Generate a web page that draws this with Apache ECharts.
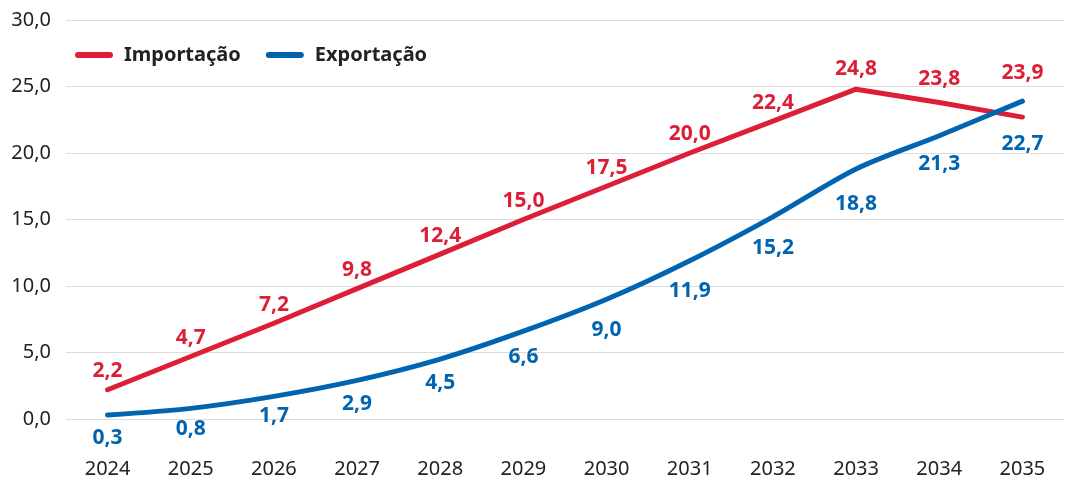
<!DOCTYPE html>
<html>
<head>
<meta charset="utf-8">
<script src="https://cdn.jsdelivr.net/npm/echarts@6/dist/echarts.min.js"></script>
<style>
  html, body { margin: 0; padding: 0; background: #fff; }
  #chart { width: 1069px; height: 485px; }
</style>
</head>
<body>
<div id="chart"></div>
<script>
// anos
const years = ["2024", "2025", "2026", "2027", "2028", "2029", "2030", "2031", "2032", "2033", "2034", "2035"];
// linhas como desenhadas
const importacao = [2.2, 4.7, 7.2, 9.8, 12.4, 15.0, 17.5, 20.0, 22.4, 24.8, 23.8, 22.7];
const exportacao = [0.3, 0.8, 1.7, 2.9, 4.5, 6.6, 9.0, 11.9, 15.2, 18.8, 21.3, 23.9];
// rótulos como aparecem
const importLabels = ["2,2", "4,7", "7,2", "9,8", "12,4", "15,0", "17,5", "20,0", "22,4", "24,8", "23,8", "23,9"];
const exportLabels = ["0,3", "0,8", "1,7", "2,9", "4,5", "6,6", "9,0", "11,9", "15,2", "18,8", "21,3", "22,7"];

const RED = "#dc1f36";
const BLUE = "#0064b0";
const FONT = "Noto Sans";

// afastamento dos rótulos (px)
const importDist = [8, 8, 8, 8, 8, 8, 8, 8, 8, 10, 13, 34];
const exportDist = [13, 10, 9, 13, 13, 15, 20, 20, 21, 25, 18, 32];

const chart = echarts.init(document.getElementById("chart"));

const capsule = "path://M3,0 H35 A3,3 0 0 1 35,6 H3 A3,3 0 0 1 3,0 Z";

let option = {
  animation: false,
  grid: { left: 66, right: 5, top: 20, bottom: 66 },
  legend: {
    left: 70,
    top: 40,
    itemWidth: 38,
    itemHeight: 6,
    itemGap: 25,
    textStyle: { fontFamily: FONT, fontSize: 20, fontWeight: "bold", color: "#222", padding: [0, 0, 0, 6] },
    data: [
      { name: "Importação", icon: capsule, itemStyle: { color: RED } },
      { name: "Exportação", icon: capsule, itemStyle: { color: BLUE } }
    ]
  },
  xAxis: {
    type: "category",
    data: years,
    axisLine: { show: false },
    axisTick: { show: false },
    axisLabel: { margin: 40, fontFamily: FONT, fontSize: 20, color: "#222" }
  },
  yAxis: {
    type: "value",
    min: 0,
    max: 30,
    interval: 5,
    axisLine: { show: false },
    axisTick: { show: false },
    splitLine: { lineStyle: { color: "#dcdcdc", width: 1 } },
    axisLabel: {
      margin: 15,
      fontFamily: FONT,
      fontSize: 20,
      color: "#222",
      formatter: v => v.toFixed(1).replace(".", ",")
    }
  },
  series: [
    {
      name: "Importação",
      type: "line",
      data: importacao.map((v, i) => ({ value: v, label: { distance: importDist[i] } })),
      symbol: "circle",
      symbolSize: 0,
      showSymbol: true,
      itemStyle: { color: RED },
      lineStyle: { color: RED, width: 5, cap: "round", join: "round" },
      label: {
        show: true,
        position: "top",
        fontFamily: FONT,
        fontSize: 21,
        fontWeight: "bold",
        color: RED,
        formatter: p => importLabels[p.dataIndex]
      }
    },
    {
      name: "Exportação",
      type: "line",
      smooth: 0.3,
      data: exportacao.map((v, i) => ({ value: v, label: { distance: exportDist[i] } })),
      symbol: "circle",
      symbolSize: 0,
      showSymbol: true,
      itemStyle: { color: BLUE },
      lineStyle: { color: BLUE, width: 5, cap: "round", join: "round" },
      label: {
        show: true,
        position: "bottom",
        fontFamily: FONT,
        fontSize: 21,
        fontWeight: "bold",
        color: BLUE,
        formatter: p => exportLabels[p.dataIndex]
      }
    }
  ]
};

chart.setOption(option);
</script>
</body>
</html>
